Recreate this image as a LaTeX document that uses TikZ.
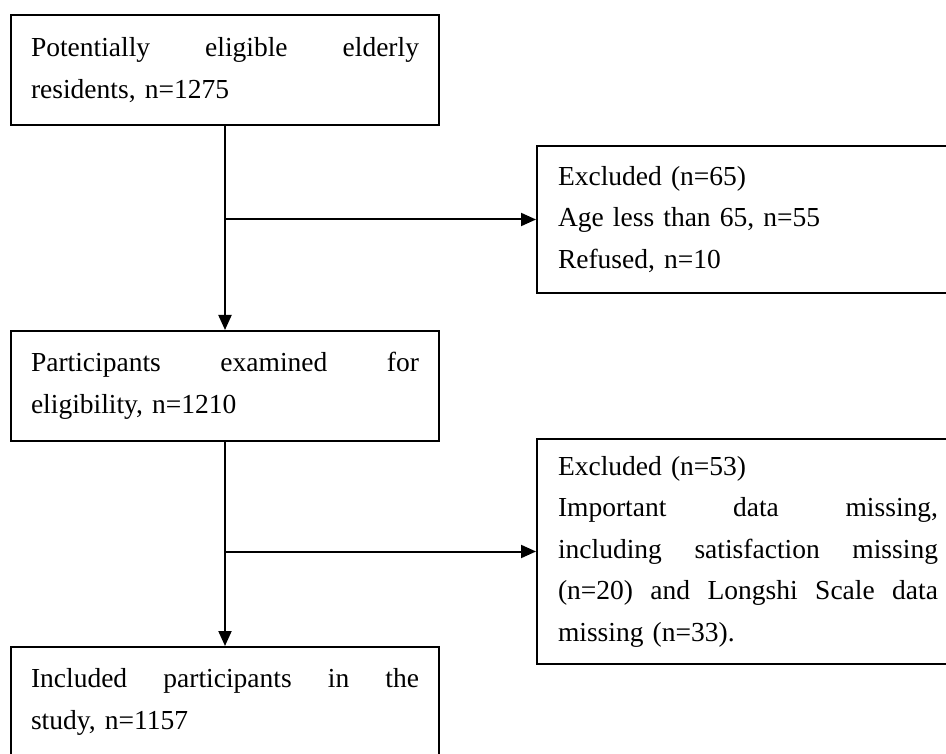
\documentclass[tikz,border=0pt]{standalone}
\usepackage{fontspec}
\setmainfont{Liberation Serif}
\usetikzlibrary{arrows.meta}
\begin{document}
\begin{tikzpicture}[x=1pt,y=-1pt,
  box/.style={draw, line width=2pt, anchor=north west, inner ysep=0pt,
    align=left, font=\fontsize{27.5}{41.5}\selectfont},
  leftbox/.style={box, text width=388pt, inner xsep=20pt, minimum width=428pt, minimum height=110pt},
  rightbox/.style={box, text width=380pt, inner xsep=21pt},
  arr/.style={line width=2pt, -{Triangle[length=15pt,width=13pt]}}]
\useasboundingbox (0,0) rectangle (946,754);
\clip (0,0) rectangle (946,754);
\fill[white] (0,0) rectangle (946,754);

\node[leftbox] (a) at (10,14) {Potentially\hfill eligible\hfill elderly\\ residents, n=1275};
\node[rightbox, minimum height=147pt] (b) at (536,145) {Excluded (n=65)\\ Age less than 65, n=55\\ Refused, n=10};
\node[leftbox] (c) at (10,330) {Participants\hfill examined\hfill for\\ eligibility, n=1210};
\node[rightbox, minimum height=225pt] (d) at (536,438) {Excluded (n=53)\\ Important\hfill data\hfill missing,\\ including\hfill satisfaction\hfill missing\\ (n=20)\hfill and\hfill Longshi\hfill Scale\hfill data\\ missing (n=33).};
\node[leftbox] (e) at (10,646) {Included\hfill participants\hfill in\hfill the\\ study, n=1157};

\draw[arr] (a.south) -- (c.north);
\draw[arr] (a.south |- b.west) -- (b.west);
\draw[arr] (c.south) -- (e.north);
\draw[arr] (c.south |- d.west) -- (d.west);
\end{tikzpicture}
\end{document}
